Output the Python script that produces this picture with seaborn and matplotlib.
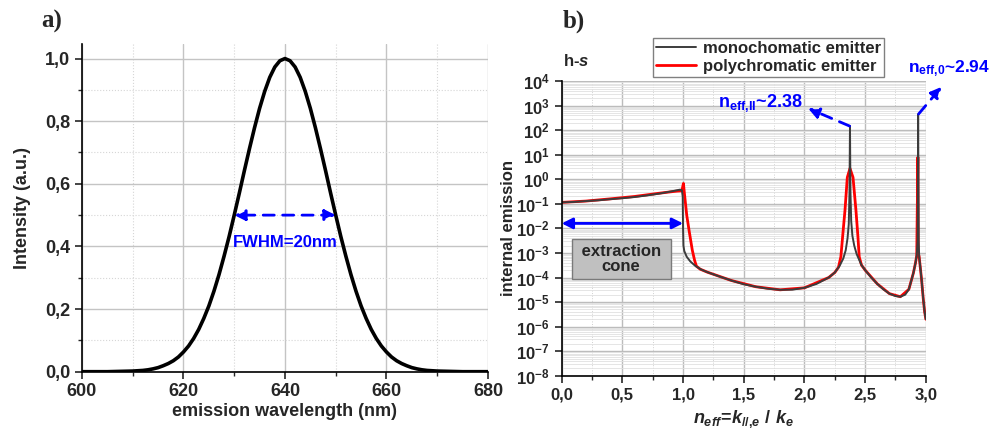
import numpy as np
import matplotlib
matplotlib.use("Agg")
import matplotlib.pyplot as plt
import matplotlib.ticker as mticker
import seaborn as sns

# -------------------
# Data
# a) emission spectrum (nm, a.u.)
wavelength = [600, 605] + list(range(610, 671)) + [675, 680]
intensity = [0.0, 0.0,
             0.002, 0.003, 0.004, 0.006, 0.009, 0.013, 0.019, 0.026, 0.035, 0.047,
             0.063, 0.082, 0.106, 0.135, 0.170, 0.210, 0.257, 0.310, 0.369, 0.432,
             0.500, 0.570, 0.642, 0.712, 0.779, 0.841, 0.895, 0.940, 0.973, 0.993,
             1.000,
             0.993, 0.973, 0.940, 0.895, 0.841, 0.779, 0.712, 0.642, 0.570, 0.500,
             0.432, 0.369, 0.310, 0.257, 0.210, 0.170, 0.135, 0.106, 0.082, 0.063,
             0.047, 0.035, 0.026, 0.019, 0.013, 0.009, 0.006, 0.004, 0.003, 0.002,
             0.0, 0.0]

# b) internal emission vs n_eff
n_mono = [0.00, 0.10, 0.20, 0.30, 0.40, 0.50, 0.60, 0.70, 0.80, 0.90,
          0.95, 0.975, 0.99, 0.997, 1.000, 1.003, 1.01, 1.03, 1.06, 1.10,
          1.15, 1.20, 1.30, 1.40, 1.50, 1.60, 1.70, 1.80, 1.90, 2.00,
          2.10, 2.20, 2.25, 2.29, 2.32, 2.34, 2.355, 2.365, 2.371, 2.375,
          2.379, 2.385, 2.395, 2.41, 2.43, 2.47, 2.50, 2.55, 2.60, 2.65,
          2.70, 2.75, 2.79, 2.83, 2.86, 2.897, 2.915, 2.925, 2.932, 2.9365,
          2.941, 2.945, 2.955, 2.965, 2.979, 2.99, 3.00]
em_mono = [0.115, 0.12, 0.13, 0.14, 0.155, 0.17, 0.19, 0.22, 0.26, 0.32,
           0.36, 0.38, 0.36, 0.2, 0.01, 2e-3, 1.2e-3, 7e-4, 4.5e-4, 3e-4,
           2.1e-4, 1.65e-4, 1.1e-4, 7.5e-5, 5.3e-5, 4.2e-5, 3.5e-5, 3.15e-5, 3.2e-5, 3.8e-5,
           5.5e-5, 1e-4, 1.6e-4, 3e-4, 6e-4, 1.3e-3, 4e-3, 1.5e-2, 0.3, 150,
           0.3, 2e-2, 5e-3, 2e-3, 9e-4, 3.2e-4, 2e-4, 1e-4, 5.5e-5, 3.3e-5,
           2.2e-5, 1.75e-5, 1.65e-5, 2e-5, 3.3e-5, 1.5e-4, 4e-4, 8e-4, 3e-3, 450,
           3e-3, 7e-4, 2.5e-4, 8e-5, 1.3e-5, 4e-6, 2e-6]

n_poly = [0.00, 0.20, 0.40, 0.60, 0.80, 0.90, 0.95, 0.99, 1.003, 1.01,
          1.03, 1.05, 1.076, 1.095, 1.11, 1.14, 1.20, 1.40, 1.60, 1.80,
          2.00, 2.20, 2.25, 2.28, 2.30, 2.315, 2.334, 2.353, 2.375, 2.40,
          2.424, 2.44, 2.451, 2.47, 2.50, 2.60, 2.70, 2.79, 2.86, 2.897,
          2.915, 2.925, 2.9345, 2.937, 2.945, 2.965, 2.979, 2.99, 3.00]
em_poly = [0.115, 0.13, 0.16, 0.20, 0.27, 0.31, 0.33, 0.34, 0.68, 0.3,
           0.035, 8e-3, 1.3e-3, 5e-4, 2.9e-4, 2.2e-4, 1.65e-4, 7.5e-5, 4.2e-5, 3.15e-5,
           3.8e-5, 1e-4, 1.6e-4, 2.6e-4, 7e-4, 5e-3, 0.056, 1.2, 2.8, 1.2,
           0.056, 5e-3, 7e-4, 3.2e-4, 2e-4, 5.5e-5, 2.2e-5, 1.65e-5, 3.3e-5, 1.5e-4,
           4e-4, 8e-4, 8.0, 1e-3, 7e-4, 8e-5, 1.3e-5, 4e-6, 2e-6]

# -------------------
sns.set_style("ticks")
plt.rcParams['font.family'] = ['Liberation Sans', 'DejaVu Sans']
plt.rcParams['font.weight'] = 'bold'
plt.rcParams['axes.labelweight'] = 'bold'
plt.rcParams['mathtext.fontset'] = 'custom'
plt.rcParams['mathtext.rm'] = 'Liberation Sans:bold'
plt.rcParams['mathtext.bf'] = 'Liberation Sans:bold'
plt.rcParams['mathtext.it'] = 'Liberation Sans:italic:bold'

comma = mticker.FuncFormatter(lambda v, p: f"{v:.1f}".replace('.', ','))

fig = plt.figure(figsize=(9.95, 4.3), dpi=100)
ax1 = fig.add_axes([0.0824, 0.1356, 0.408, 0.761])
ax2 = fig.add_axes([0.5645, 0.1263, 0.366, 0.685])

for ax in (ax1, ax2):
    for s in ('top', 'right'):
        ax.spines[s].set_visible(False)
    for s in ('left', 'bottom'):
        ax.spines[s].set_color('black')
        ax.spines[s].set_linewidth(1.2)
    ax.set_axisbelow(True)

# -------------------
# Plot a) spectrum
sns.lineplot(x=wavelength, y=intensity, ax=ax1, color='black', lw=2.6,
             sort=False, estimator=None)
ax1.set_xlim(600, 680)
ax1.set_ylim(0, 1.045)
ax1.xaxis.set_major_locator(mticker.MultipleLocator(20))
ax1.xaxis.set_minor_locator(mticker.MultipleLocator(10))
ax1.yaxis.set_major_locator(mticker.MultipleLocator(0.2))
ax1.yaxis.set_minor_locator(mticker.MultipleLocator(0.1))
ax1.yaxis.set_major_formatter(comma)
ax1.grid(which='major', color='#c4c4c4', lw=1.0)
ax1.grid(which='minor', color='#d6d6d6', lw=0.8, ls=':')
ax1.tick_params(which='major', direction='out', length=5, width=1.2, labelsize=13)
ax1.tick_params(which='minor', direction='out', length=3, width=1.0)
ax1.set_xlabel("emission wavelength (nm)", fontsize=13, labelpad=2)
ax1.set_ylabel("Intensity (a.u.)", fontsize=13, labelpad=10)

ax1.annotate('', xy=(630, 0.5), xytext=(650, 0.5),
             arrowprops=dict(arrowstyle='<|-|>', color='blue', lw=2, ls=(0, (4, 3)),
                             mutation_scale=16, shrinkA=0, shrinkB=0))
ax1.text(640, 0.412, "FWHM=20nm", color='blue', fontsize=12, ha='center', va='center')

# -------------------
# Plot b) internal emission
sns.lineplot(x=n_poly, y=em_poly, ax=ax2, color='red', lw=2.0,
             sort=False, estimator=None, label='polychromatic emitter')
sns.lineplot(x=n_mono, y=em_mono, ax=ax2, color='#3c3c3c', lw=1.4,
             sort=False, estimator=None, label='monochomatic emitter')
ax2.set_yscale('log')
ax2.set_xlim(0, 3.0)
ax2.set_ylim(1e-8, 1e4)
ax2.xaxis.set_major_locator(mticker.MultipleLocator(0.5))
ax2.xaxis.set_minor_locator(mticker.MultipleLocator(0.25))
ax2.xaxis.set_major_formatter(comma)
ax2.yaxis.set_major_locator(mticker.LogLocator(base=10, numticks=30))
ax2.yaxis.set_minor_locator(mticker.LogLocator(base=10, subs=np.arange(2, 10), numticks=200))
ax2.yaxis.set_minor_formatter(mticker.NullFormatter())
ax2.grid(which='major', color='#bcbcbc', lw=1.0)
ax2.grid(which='minor', axis='y', color='#e0e0e0', lw=0.6)
ax2.grid(which='minor', axis='x', color='#d0d0d0', lw=0.7, ls=':')
ax2.tick_params(which='major', direction='out', length=5, width=1.2, labelsize=12)
ax2.tick_params(which='minor', axis='x', direction='out', length=3, width=1.0)
ax2.tick_params(which='minor', axis='y', length=0)
ax2.set_xlabel(r"$n_{eff}\!=\!k_{//{,}e}\ /\ k_{e}$", fontsize=13, labelpad=4)
ax2.set_ylabel("internal emission", fontsize=12, labelpad=0)

handles, labels = ax2.get_legend_handles_labels()
ax2.legend(handles[::-1], labels[::-1], loc='upper left',
           bbox_to_anchor=(0.656, 0.912), bbox_transform=fig.transFigure,
           fontsize=12, frameon=True, fancybox=False, framealpha=1,
           edgecolor='#808080', borderpad=0.2, labelspacing=0.15,
           handlelength=2.4, handletextpad=0.4, borderaxespad=0)

# double arrow: extraction cone
ax2.annotate('', xy=(0.0, 0.016), xytext=(1.0, 0.016),
             arrowprops=dict(arrowstyle='<|-|>', color='blue', lw=2,
                             mutation_scale=16, shrinkA=0, shrinkB=0))
ax2.text(0.49, 5.9e-4, " extraction \ncone", fontsize=12, ha='center', va='center',
         linespacing=1.0,
         bbox=dict(boxstyle='square,pad=0.3', facecolor='#c0c0c0', edgecolor='#7a7a7a'))

# mode annotations
ax2.annotate('', xy=(2.03, 780), xytext=(2.372, 148),
             arrowprops=dict(arrowstyle='-|>', color='blue', lw=2, ls=(0, (4, 3)),
                             mutation_scale=16, shrinkA=0, shrinkB=0))
ax2.text(1.985, 10**2.95, r"$\mathrm{n_{eff{,}II}}$~2.38", color='blue', fontsize=13,
         ha='right', va='baseline')
ax2.annotate('', xy=(3.13, 10**3.77), xytext=(2.94, 10**2.66),
             arrowprops=dict(arrowstyle='-|>', color='blue', lw=2, ls=(0, (4, 3)),
                             mutation_scale=16, shrinkA=0, shrinkB=0),
             annotation_clip=False)
ax2.text(2.855, 10**4.37, r"$\mathrm{n_{eff{,}0}}$~2.94", color='blue', fontsize=12.5,
         ha='left', va='baseline')

fig.text(0.566, 0.858, r"h-$s$", fontsize=12, ha='left', va='center')

# panel labels
fig.text(0.041, 0.95, "a)", fontsize=18, fontweight='bold', family='Liberation Serif',
         ha='left', va='center')
fig.text(0.565, 0.95, "b)", fontsize=18, fontweight='bold', family='Liberation Serif',
         ha='left', va='center')

fig.savefig("out.png", dpi=100)
